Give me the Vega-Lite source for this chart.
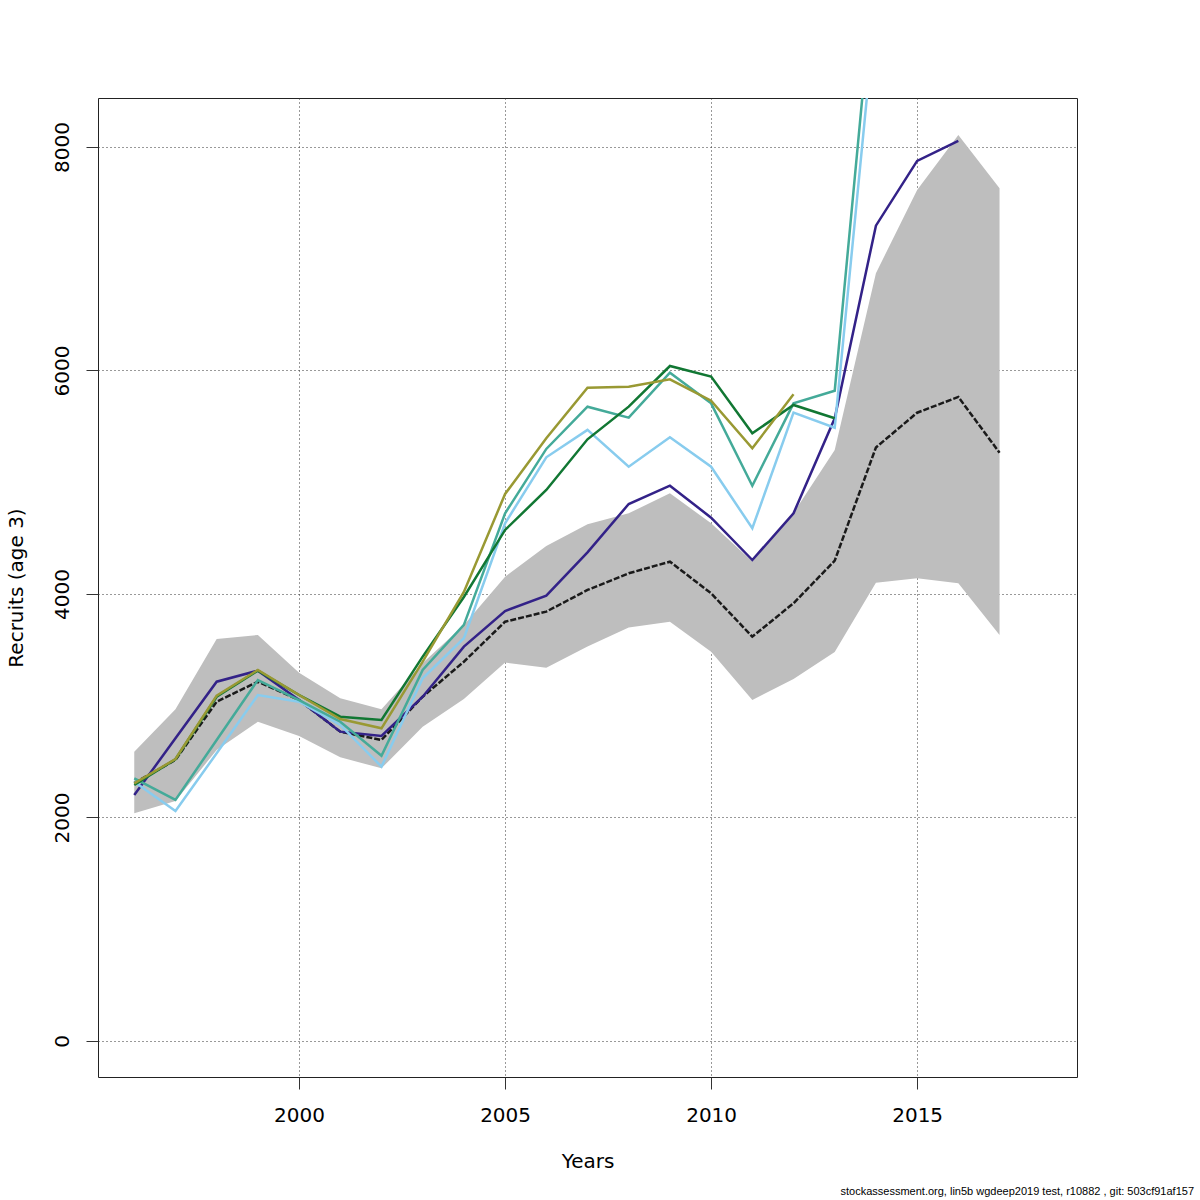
{
  "$schema": "https://vega.github.io/schema/vega-lite/v6.json",
  "autosize": "none",
  "width": 979,
  "height": 979,
  "padding": {"left": 98, "top": 98, "right": 123, "bottom": 123},
  "background": "white",
  "config": {
    "view": {"stroke": "#222", "strokeWidth": 1},
    "font": "DejaVu Sans",
    "axis": {
      "domain": false,
      "ticks": true,
      "tickSize": 12,
      "tickColor": "#333",
      "grid": true,
      "gridColor": "#333",
      "gridDash": [1, 3],
      "gridWidth": 1,
      "labelFont": "DejaVu Sans",
      "labelFontSize": 20,
      "labelColor": "#000",
      "titleFont": "DejaVu Sans",
      "titleFontSize": 20,
      "titleFontWeight": "normal",
      "titleColor": "#000"
    }
  },
  "title": {
    "text": "stockassessment.org, lin5b wgdeep2019 test, r10882 , git: 503cf91af157",
    "orient": "bottom",
    "anchor": "end",
    "fontSize": 11,
    "fontWeight": "normal",
    "font": "Liberation Sans",
    "color": "#000",
    "offset": 15,
    "dx": 117
  },
  "datasets": {
    "band": [
      {"year": 1996, "lo": 2038, "hi": 2589, "est": 2309},
      {"year": 1997, "lo": 2148, "hi": 2968, "est": 2515},
      {"year": 1998, "lo": 2604, "hi": 3597, "est": 3036},
      {"year": 1999, "lo": 2857, "hi": 3633, "est": 3215},
      {"year": 2000, "lo": 2729, "hi": 3296, "est": 3051},
      {"year": 2001, "lo": 2539, "hi": 3067, "est": 2768},
      {"year": 2002, "lo": 2440, "hi": 2968, "est": 2694},
      {"year": 2003, "lo": 2813, "hi": 3383, "est": 3081},
      {"year": 2004, "lo": 3060, "hi": 3723, "est": 3394},
      {"year": 2005, "lo": 3386, "hi": 4155, "est": 3752},
      {"year": 2006, "lo": 3341, "hi": 4430, "est": 3842},
      {"year": 2007, "lo": 3529, "hi": 4624, "est": 4036},
      {"year": 2008, "lo": 3699, "hi": 4722, "est": 4185},
      {"year": 2009, "lo": 3752, "hi": 4901, "est": 4289},
      {"year": 2010, "lo": 3484, "hi": 4633, "est": 4006},
      {"year": 2011, "lo": 3051, "hi": 4290, "est": 3618},
      {"year": 2012, "lo": 3239, "hi": 4725, "est": 3917},
      {"year": 2013, "lo": 3481, "hi": 5289, "est": 4298},
      {"year": 2014, "lo": 4101, "hi": 6870, "est": 5311},
      {"year": 2015, "lo": 4140, "hi": 7615, "est": 5622},
      {"year": 2016, "lo": 4096, "hi": 8107, "est": 5763},
      {"year": 2017, "lo": 3633, "hi": 7630, "est": 5264}
    ],
    "retro": [
      {"s": "p1", "year": 1996, "v": 2201}, {"s": "p1", "year": 1997, "v": 2709}, {"s": "p1", "year": 1998, "v": 3215}, {"s": "p1", "year": 1999, "v": 3314}, {"s": "p1", "year": 2000, "v": 3051}, {"s": "p1", "year": 2001, "v": 2768}, {"s": "p1", "year": 2002, "v": 2729}, {"s": "p1", "year": 2003, "v": 3081}, {"s": "p1", "year": 2004, "v": 3529}, {"s": "p1", "year": 2005, "v": 3848}, {"s": "p1", "year": 2006, "v": 3985}, {"s": "p1", "year": 2007, "v": 4373}, {"s": "p1", "year": 2008, "v": 4805}, {"s": "p1", "year": 2009, "v": 4969}, {"s": "p1", "year": 2010, "v": 4683}, {"s": "p1", "year": 2011, "v": 4304}, {"s": "p1", "year": 2012, "v": 4722}, {"s": "p1", "year": 2013, "v": 5572}, {"s": "p1", "year": 2014, "v": 7296}, {"s": "p1", "year": 2015, "v": 7875}, {"s": "p1", "year": 2016, "v": 8054},
      {"s": "p2", "year": 1996, "v": 2320}, {"s": "p2", "year": 1997, "v": 2058}, {"s": "p2", "year": 1998, "v": 2575}, {"s": "p2", "year": 1999, "v": 3096}, {"s": "p2", "year": 2000, "v": 3036}, {"s": "p2", "year": 2001, "v": 2828}, {"s": "p2", "year": 2002, "v": 2455}, {"s": "p2", "year": 2003, "v": 3246}, {"s": "p2", "year": 2004, "v": 3604}, {"s": "p2", "year": 2005, "v": 4633}, {"s": "p2", "year": 2006, "v": 5223}, {"s": "p2", "year": 2007, "v": 5468}, {"s": "p2", "year": 2008, "v": 5139}, {"s": "p2", "year": 2009, "v": 5402}, {"s": "p2", "year": 2010, "v": 5139}, {"s": "p2", "year": 2011, "v": 4588}, {"s": "p2", "year": 2012, "v": 5623}, {"s": "p2", "year": 2013, "v": 5488}, {"s": "p2", "year": 2014, "v": 9274},
      {"s": "p3", "year": 1996, "v": 2351}, {"s": "p3", "year": 1997, "v": 2157}, {"s": "p3", "year": 1998, "v": 2694}, {"s": "p3", "year": 1999, "v": 3230}, {"s": "p3", "year": 2000, "v": 3051}, {"s": "p3", "year": 2001, "v": 2857}, {"s": "p3", "year": 2002, "v": 2553}, {"s": "p3", "year": 2003, "v": 3320}, {"s": "p3", "year": 2004, "v": 3723}, {"s": "p3", "year": 2005, "v": 4722}, {"s": "p3", "year": 2006, "v": 5298}, {"s": "p3", "year": 2007, "v": 5676}, {"s": "p3", "year": 2008, "v": 5578}, {"s": "p3", "year": 2009, "v": 5980}, {"s": "p3", "year": 2010, "v": 5706}, {"s": "p3", "year": 2011, "v": 4969}, {"s": "p3", "year": 2012, "v": 5706}, {"s": "p3", "year": 2013, "v": 5819}, {"s": "p3", "year": 2014, "v": 9737},
      {"s": "p4", "year": 1996, "v": 2291}, {"s": "p4", "year": 1997, "v": 2521}, {"s": "p4", "year": 1998, "v": 3081}, {"s": "p4", "year": 1999, "v": 3314}, {"s": "p4", "year": 2000, "v": 3096}, {"s": "p4", "year": 2001, "v": 2902}, {"s": "p4", "year": 2002, "v": 2872}, {"s": "p4", "year": 2003, "v": 3439}, {"s": "p4", "year": 2004, "v": 3973}, {"s": "p4", "year": 2005, "v": 4573}, {"s": "p4", "year": 2006, "v": 4931}, {"s": "p4", "year": 2007, "v": 5384}, {"s": "p4", "year": 2008, "v": 5676}, {"s": "p4", "year": 2009, "v": 6040}, {"s": "p4", "year": 2010, "v": 5945}, {"s": "p4", "year": 2011, "v": 5438}, {"s": "p4", "year": 2012, "v": 5691}, {"s": "p4", "year": 2013, "v": 5572},
      {"s": "p5", "year": 1996, "v": 2306}, {"s": "p5", "year": 1997, "v": 2523}, {"s": "p5", "year": 1998, "v": 3090}, {"s": "p5", "year": 1999, "v": 3320}, {"s": "p5", "year": 2000, "v": 3096}, {"s": "p5", "year": 2001, "v": 2881}, {"s": "p5", "year": 2002, "v": 2798}, {"s": "p5", "year": 2003, "v": 3394}, {"s": "p5", "year": 2004, "v": 4018}, {"s": "p5", "year": 2005, "v": 4895}, {"s": "p5", "year": 2006, "v": 5393}, {"s": "p5", "year": 2007, "v": 5846}, {"s": "p5", "year": 2008, "v": 5855}, {"s": "p5", "year": 2009, "v": 5921}, {"s": "p5", "year": 2010, "v": 5730}, {"s": "p5", "year": 2011, "v": 5304}, {"s": "p5", "year": 2012, "v": 5787}
    ]
  },
  "encoding": {
    "x": {
      "field": "year",
      "type": "quantitative",
      "scale": {"domain": [1995.12, 2018.88], "nice": false, "zero": false},
      "axis": {
        "values": [2000, 2005, 2010, 2015],
        "format": "d",
        "title": "Years",
        "labelPadding": 16,
        "titlePadding": 26
      }
    }
  },
  "layer": [
    {
      "data": {"name": "band"},
      "mark": {"type": "area", "color": "#BEBEBE", "opacity": 1, "clip": true},
      "encoding": {
        "y": {
          "field": "hi",
          "type": "quantitative",
          "scale": {"domain": [-322, 8438], "nice": false, "zero": false},
          "axis": {
            "values": [0, 2000, 4000, 6000, 8000],
            "format": "d",
            "title": "Recruits (age 3)",
            "labelAngle": -90,
            "labelAlign": "center",
            "labelBaseline": "bottom",
            "labelPadding": 14,
            "titlePadding": 26
          }
        },
        "y2": {"field": "lo"}
      }
    },
    {
      "data": {"name": "band"},
      "mark": {"type": "line", "color": "#1a1a1a", "strokeWidth": 2.5, "strokeDash": [6, 2], "clip": true},
      "encoding": {
        "y": {"field": "est", "type": "quantitative"}
      }
    },
    {
      "data": {"name": "retro"},
      "mark": {"type": "line", "strokeWidth": 2.5, "clip": true},
      "encoding": {
        "y": {"field": "v", "type": "quantitative"},
        "color": {
          "field": "s",
          "type": "nominal",
          "scale": {"domain": ["p1", "p2", "p3", "p4", "p5"], "range": ["#332288", "#88CCEE", "#44AA99", "#117733", "#999933"]},
          "legend": null
        }
      }
    }
  ]
}
